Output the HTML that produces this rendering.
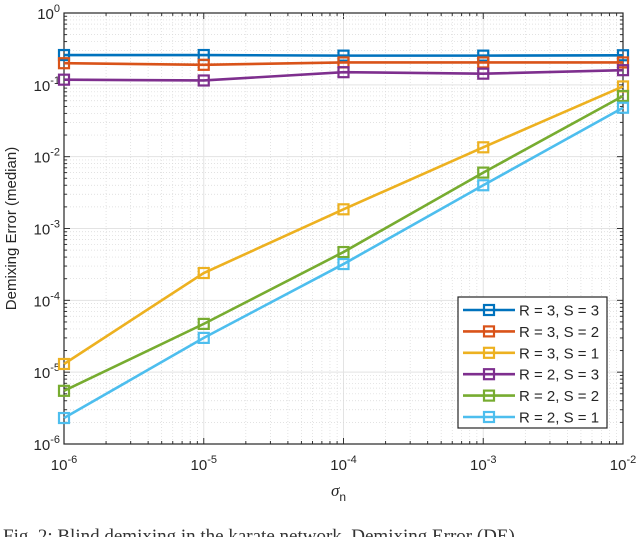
<!DOCTYPE html>
<html><head><meta charset="utf-8"><style>
body{margin:0;background:#fff;width:640px;height:537px;overflow:hidden}
svg{display:block;font-family:"Liberation Sans",Helvetica,sans-serif}
</style></head><body>
<svg id="c" width="640" height="537" viewBox="0 0 640 537"></svg>
<script>
const xTicks=[-6,-5,-4,-3,-2];
const yTicks=[0,-1,-2,-3,-4,-5,-6];
const seriesNames=["R = 3, S = 3","R = 3, S = 2","R = 3, S = 1","R = 2, S = 3","R = 2, S = 2","R = 2, S = 1"];
const sigma=[1e-6,1e-5,1e-4,1e-3,1e-2];
const r3s3=[0.26,0.26,0.255,0.255,0.258];
const r3s2=[0.20,0.19,0.205,0.205,0.205];
const r3s1=[1.3e-5,2.4e-4,1.85e-3,1.35e-2,0.095];
const r2s3=[0.118,0.115,0.15,0.143,0.16];
const r2s2=[5.5e-6,4.7e-5,4.7e-4,6e-3,0.07];
const r2s1=[2.3e-6,3e-5,3.2e-4,4e-3,0.048];
const colors=["#0072BD","#D95319","#EDB120","#7E2F8E","#77AC30","#4DBEEE"];
const allSeries=[r3s3,r3s2,r3s1,r2s3,r2s2,r2s1];
const L=64,R=623,T=13,B=444;
const X=v=>L+(Math.log10(v)+6)/4*(R-L);
const Y=v=>T+(0-Math.log10(v))/6*(B-T);
const ns="http://www.w3.org/2000/svg";
const svg=document.getElementById('c');
function mk(t,a,p){const e=document.createElementNS(ns,t);for(const k in a)e.setAttribute(k,a[k]);(p||svg).appendChild(e);return e;}
const g=mk('g',{});


for(let d=-6;d<-2;d++)for(let m=1;m<10;m++){const x=X(m*Math.pow(10,d));
 mk('line',{x1:x,x2:x,y1:T,y2:B,stroke:m==1?'#e3e3e3':'#d8d8d8','stroke-width':m==1?1:0.7,'stroke-dasharray':m==1?'':'1,2'},g);
 mk('line',{x1:x,x2:x,y1:B,y2:B-(m==1?6:3),stroke:'#333'},g);mk('line',{x1:x,x2:x,y1:T,y2:T+(m==1?6:3),stroke:'#333'},g);}
for(let d=-6;d<0;d++)for(let m=1;m<10;m++){const y=Y(m*Math.pow(10,d));
 mk('line',{x1:L,x2:R,y1:y,y2:y,stroke:m==1?'#e3e3e3':'#d8d8d8','stroke-width':m==1?1:0.7,'stroke-dasharray':m==1?'':'1,2'},g);
 mk('line',{x1:L,x2:L+(m==1?6:3),y1:y,y2:y,stroke:'#333'},g);mk('line',{x1:R,x2:R-(m==1?6:3),y1:y,y2:y,stroke:'#333'},g);}
const ax=mk('rect',{x:L,y:T,width:R-L,height:B-T,fill:'none',stroke:'#262626','stroke-width':1.2});


xTicks.forEach(e=>{const t=mk('text',{x:X(Math.pow(10,e)),y:B+26,'text-anchor':'middle','font-size':15,fill:'#262626'});
 
 
 t.innerHTML='10<tspan dy="-7" font-size="11">'+e+'</tspan>';});
yTicks.forEach(e=>{const t=mk('text',{x:L-4,y:Y(Math.pow(10,e))+6,'text-anchor':'end','font-size':15,fill:'#262626'});
 
 
 t.innerHTML='10<tspan dy="-7" font-size="11">'+e+'</tspan>';});
const xt=mk('text',{x:(L+R)/2-5,y:B+52,'text-anchor':'middle','font-size':17,fill:'#262626'});


xt.innerHTML='<tspan font-family="Liberation Serif" font-style="italic">σ</tspan><tspan dy="5" font-size="12">n</tspan>';
const yt=mk('text',{x:0,y:0,'text-anchor':'middle','font-size':15,fill:'#262626',transform:`translate(16,${(T+B)/2}) rotate(-90)`});


yt.textContent='Demixing Error (median)';
allSeries.forEach((s,i)=>{const sg=mk('g',{});
 
 
 mk('polyline',{points:s.map((v,j)=>X(sigma[j])+','+Y(v)).join(' '),fill:'none',stroke:colors[i],'stroke-width':2.6},sg);
 s.forEach((v,j)=>{const m=mk('rect',{x:X(sigma[j])-5,y:Y(v)-5,width:10,height:10,fill:'none',stroke:colors[i],'stroke-width':2.2},sg);
  
  });});
const lg=mk('g',{});


mk('rect',{x:458,y:297,width:149,height:131,fill:'#fff',stroke:'#262626','stroke-width':1.2},lg);
seriesNames.forEach((n,i)=>{const y=310+i*21.4;const e=mk('g',{},lg);
 
 
 mk('line',{x1:463,x2:515,y1:y,y2:y,stroke:colors[i],'stroke-width':2.6},e);
 mk('rect',{x:484,y:y-5,width:10,height:10,fill:'none',stroke:colors[i],'stroke-width':2.2},e);
 const t=mk('text',{x:519,y:y+5.5,'font-size':15,fill:'#262626'},e);t.textContent=n;});
const cap=mk('text',{x:3,y:542,'font-size':19,fill:'#333','font-family':'Liberation Serif'});


cap.textContent='Fig. 2: Blind demixing in the karate network. Demixing Error (DE)';
</script>
</body></html>
